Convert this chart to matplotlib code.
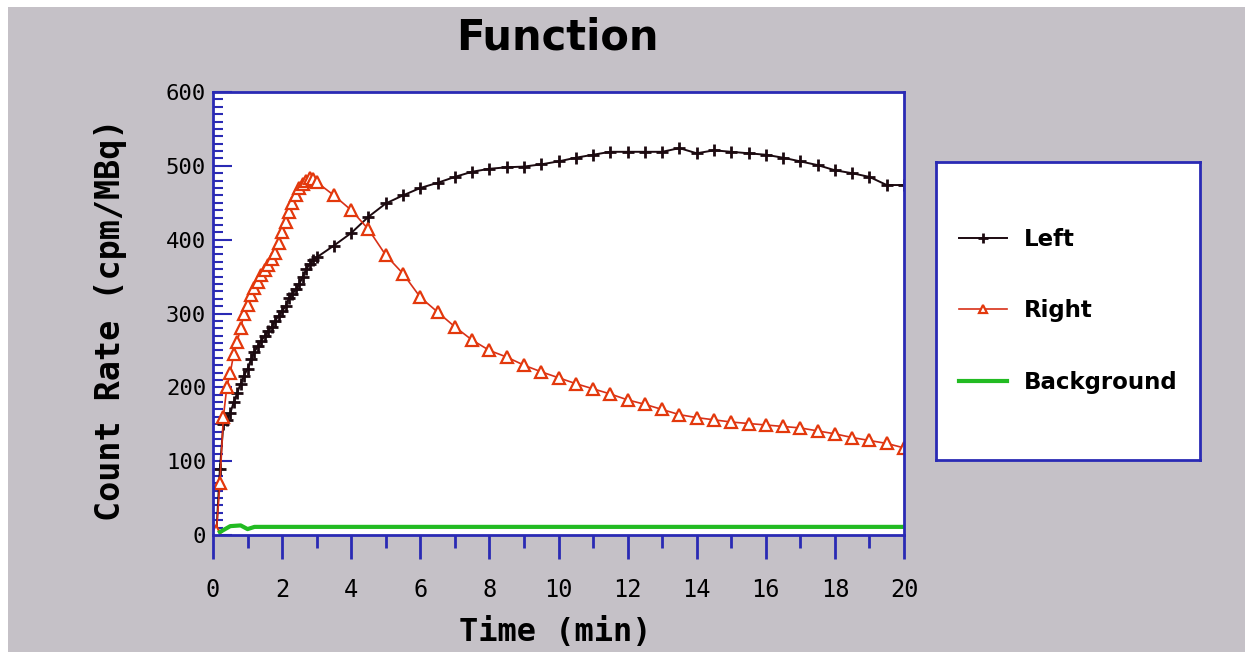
import matplotlib.pyplot as plt
from matplotlib.patches import Rectangle
from matplotlib.ticker import MultipleLocator

# time axis (min) and count rates
left_t = [0.1, 0.2, 0.3, 0.4, 0.5, 0.6, 0.7, 0.8, 0.9, 1.0,
          1.1, 1.2, 1.3, 1.4, 1.5, 1.6, 1.7, 1.8, 1.9, 2.0,
          2.1, 2.2, 2.3, 2.4, 2.5, 2.6, 2.7, 2.8, 2.9, 3.0,
          3.5, 4.0, 4.5, 5.0, 5.5, 6.0, 6.5, 7.0, 7.5, 8.0,
          8.5, 9.0, 9.5, 10.0, 10.5, 11.0, 11.5, 12.0, 12.5, 13.0,
          13.5, 14.0, 14.5, 15.0, 15.5, 16.0, 16.5, 17.0, 17.5, 18.0,
          18.5, 19.0, 19.5, 20.0]
left_rate = [5, 90, 150, 156, 165, 180, 192, 205, 216, 225,
             238, 248, 256, 263, 270, 276, 282, 290, 297, 303,
             310, 321, 326, 333, 340, 350, 360, 367, 372, 376,
             392, 409, 431, 449, 460, 470, 477, 485, 492, 496,
             498, 499, 502, 506, 511, 515, 519, 519, 519, 519,
             524, 517, 521, 519, 517, 515, 511, 506, 501, 494,
             490, 485, 474, 474]

right_t = [0.1, 0.2, 0.3, 0.4, 0.5, 0.6, 0.7, 0.8, 0.9, 1.0,
           1.1, 1.2, 1.3, 1.4, 1.5, 1.6, 1.7, 1.8, 1.9, 2.0,
           2.1, 2.2, 2.3, 2.4, 2.5, 2.6, 2.7, 2.8, 2.9, 3.0,
           3.5, 4.0, 4.5, 5.0, 5.5, 6.0, 6.5, 7.0, 7.5, 8.0,
           8.5, 9.0, 9.5, 10.0, 10.5, 11.0, 11.5, 12.0, 12.5, 13.0,
           13.5, 14.0, 14.5, 15.0, 15.5, 16.0, 16.5, 17.0, 17.5, 18.0,
           18.5, 19.0, 19.5, 20.0]
right_rate = [5, 70, 160, 200, 220, 245, 262, 280, 300, 312,
              325, 335, 343, 352, 359, 366, 374, 382, 396, 410,
              424, 438, 450, 461, 470, 476, 480, 484, 482, 478,
              460, 440, 414, 379, 354, 322, 302, 282, 264, 250,
              241, 230, 221, 213, 205, 198, 191, 183, 177, 170,
              163, 159, 156, 153, 151, 149, 147, 145, 141, 137,
              132, 128, 124, 118]

bg_t = [0.2, 0.5, 0.8, 1.0, 1.2, 20.0]
bg_rate = [4, 12, 13, 8, 11, 11]

BLUE = '#2a2ab4'
GRAY = '#c5c1c7'
MONO = 'DejaVu Sans Mono'

fig = plt.figure(figsize=(12.45, 6.52), dpi=100, facecolor='white')
fig.patches.append(Rectangle((8 / 1245, 0), 1, 1 - 7 / 652, transform=fig.transFigure,
                             facecolor=GRAY, edgecolor='none', zorder=-10))

ax = fig.add_axes([213 / 1245, 1 - 535 / 652, 691 / 1245, 443 / 652])
ax.set_facecolor('white')

l_left, = ax.plot(left_t, left_rate, color='#1c0a10', lw=1.4, marker='+',
                  markersize=9, markeredgewidth=2.0, label='Left')
l_right, = ax.plot(right_t, right_rate, color='#d83018', lw=1.2, marker='^',
                   markersize=8, markerfacecolor='white', markeredgecolor='#e3380c',
                   markeredgewidth=1.6, label='Right')
l_bg, = ax.plot(bg_t, bg_rate, color='#22bb22', lw=3, label='Background')

ax.set_xlim(0, 20)
ax.set_ylim(0, 600)
for s in ax.spines.values():
    s.set_color(BLUE)
    s.set_linewidth(2)

ax.xaxis.set_major_locator(MultipleLocator(2))
ax.xaxis.set_minor_locator(MultipleLocator(1))
ax.yaxis.set_major_locator(MultipleLocator(100))
ax.yaxis.set_minor_locator(MultipleLocator(10))
ax.tick_params(axis='x', which='major', direction='out', length=17, width=2,
               color=BLUE, pad=14, labelsize=17)
ax.tick_params(axis='x', which='minor', direction='out', length=9, width=2, color=BLUE)
ax.tick_params(axis='y', which='major', direction='in', length=14, width=1.5,
               color=BLUE, pad=5, labelsize=16)
ax.tick_params(axis='y', which='minor', direction='in', length=7, width=1.5, color=BLUE)
for lab in ax.get_xticklabels() + ax.get_yticklabels():
    lab.set_fontfamily(MONO)

ax.set_xlabel('Time (min)', fontfamily=MONO, fontweight='bold', fontsize=23)
ax.xaxis.set_label_coords(0.495, -0.221)
ax.xaxis.label.set_va('center')
ax.set_ylabel('Count Rate (cpm/MBq)', fontfamily=MONO, fontweight='bold', fontsize=24)
ax.yaxis.set_label_coords(-0.149, 0.485)
ax.yaxis.label.set_va('center')

fig.text(557 / 1245, 1 - 38 / 652, 'Function', ha='center', va='center',
         fontsize=30, fontweight='bold')

# legend box
lax = fig.add_axes([936 / 1245, 1 - 460 / 652, 264 / 1245, 298 / 652])
lax.set_facecolor('white')
lax.set_xticks([])
lax.set_yticks([])
for s in lax.spines.values():
    s.set_color(BLUE)
    s.set_linewidth(2)
lax.legend(handles=[l_left, l_right, l_bg], loc='center', frameon=False,
           prop={'size': 16.5, 'weight': 'bold'}, labelspacing=2.1,
           handlelength=2.1, handletextpad=0.75, markerscale=0.8)

fig.savefig('out.png', dpi=100, facecolor=fig.get_facecolor())
